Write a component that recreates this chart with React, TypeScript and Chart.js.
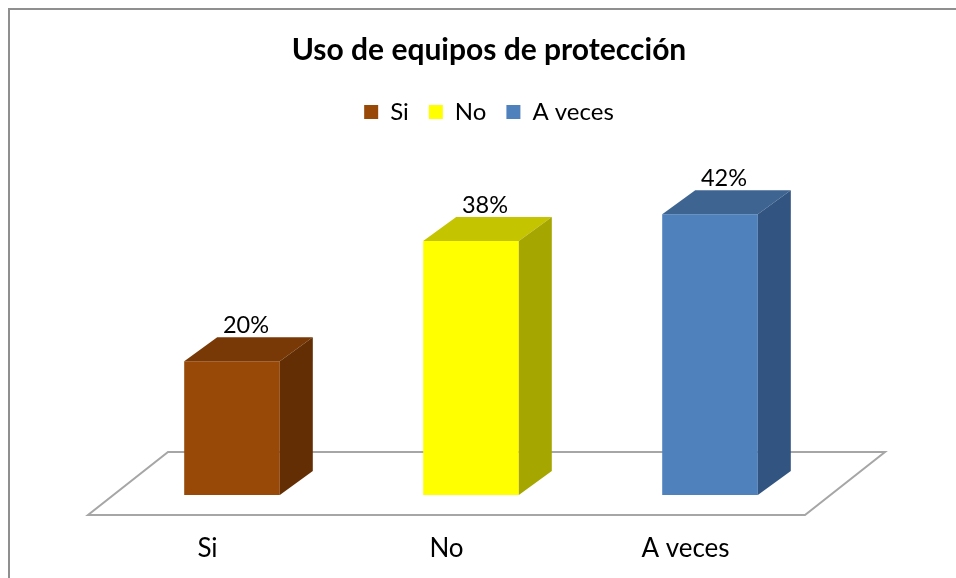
import React, { useEffect, useRef } from "react";
import { Chart, registerables } from "chart.js";

Chart.register(...registerables);

const titleText = "Uso de equipos de protección";
const categories = ["Si", "No", "A veces"];
const values = [20, 38, 42];
const frontColors = ["#984807", "#FFFF00", "#4F81BD"];
const topColors = ["#793906", "#C4C400", "#3E6592"];
const sideColors = ["#632E04", "#A6A600", "#325480"];

const FONT = "Lato, 'Open Sans', sans-serif";
const DEPTH_X = 33;
const DEPTH_Y = -24;
const FLOOR_FRONT_DX = -24.5;
const FLOOR_FRONT_DY = 20;
const FLOOR_BACK_DX = 55.5;
const FLOOR_BACK_DY = -43;

function poly(ctx: CanvasRenderingContext2D, pts: number[][], fill: string) {
  ctx.beginPath();
  ctx.moveTo(pts[0][0], pts[0][1]);
  for (let i = 1; i < pts.length; i++) ctx.lineTo(pts[i][0], pts[i][1]);
  ctx.closePath();
  ctx.fillStyle = fill;
  ctx.fill();
}

const bars3d = {
  id: "bars3d",
  beforeDatasetsDraw(chart: any) {
    const { ctx, chartArea, scales } = chart;
    const base = scales.y.getPixelForValue(0);
    const l = chartArea.left;
    const r = chartArea.right;
    ctx.save();
    ctx.beginPath();
    ctx.moveTo(l + FLOOR_FRONT_DX, base + FLOOR_FRONT_DY);
    ctx.lineTo(r + FLOOR_FRONT_DX, base + FLOOR_FRONT_DY);
    ctx.lineTo(r + FLOOR_BACK_DX, base + FLOOR_BACK_DY);
    ctx.lineTo(l + FLOOR_BACK_DX, base + FLOOR_BACK_DY);
    ctx.closePath();
    ctx.fillStyle = "#ffffff";
    ctx.fill();
    ctx.strokeStyle = "#a6a6a6";
    ctx.lineWidth = 2;
    ctx.stroke();
    ctx.restore();
  },
  afterDatasetsDraw(chart: any) {
    const { ctx } = chart;
    ctx.save();
    chart.data.datasets.forEach((ds: any, di: number) => {
      const meta = chart.getDatasetMeta(di);
      meta.data.forEach((el: any, i: number) => {
        const v = ds.data[i];
        if (v == null) return;
        const { x, y, base, width } = el.getProps(["x", "y", "base", "width"], true);
        const x0 = x - width / 2;
        const x1 = x + width / 2;
        poly(ctx, [[x0, y], [x1, y], [x1 + DEPTH_X, y + DEPTH_Y], [x0 + DEPTH_X, y + DEPTH_Y]], topColors[di]);
        poly(ctx, [[x1, y], [x1 + DEPTH_X, y + DEPTH_Y], [x1 + DEPTH_X, base + DEPTH_Y], [x1, base]], sideColors[di]);
        ctx.fillStyle = "#000000";
        ctx.font = `23.5px ${FONT}`;
        ctx.textAlign = "center";
        ctx.textBaseline = "middle";
        ctx.fillText(`${v}%`, x + 14, y + DEPTH_Y - 12);
      });
    });
    ctx.restore();
  },
};

export default function App() {
  const ref = useRef<HTMLCanvasElement | null>(null);
  useEffect(() => {
    if (!ref.current) return;
    const datasets = categories.map((c, i) => ({
      label: c,
      data: values.map((v, j) => (j === i ? v : null)),
      backgroundColor: frontColors[i],
      borderWidth: 0,
      grouped: false,
      barPercentage: 0.4,
      categoryPercentage: 1,
    }));
    const chart = new Chart(ref.current, {
      type: "bar",
      data: { labels: categories, datasets },
      options: {
        animation: false,
        responsive: false,
        layout: { padding: { left: 102.5, right: 90.5, top: 0, bottom: 0 } },
        plugins: {
          title: {
            display: true,
            text: titleText,
            color: "#000000",
            font: { family: FONT, size: 30, weight: "bold" },
            padding: { top: 22, bottom: 12 },
          },
          legend: {
            display: true,
            labels: {
              color: "#000000",
              boxWidth: 14,
              boxHeight: 14,
              padding: 20,
              font: { family: FONT, size: 24 },
            },
          },
          tooltip: { enabled: false },
        },
        scales: {
          x: {
            grid: { display: false, drawTicks: false },
            border: { display: false },
            ticks: {
              color: "#000000",
              font: { family: FONT, size: 26 },
              padding: 38,
              labelOffset: FLOOR_FRONT_DX,
              maxRotation: 0,
              minRotation: 0,
              autoSkip: false,
            },
            afterFit: (s: any) => {
              s.height = 83;
            },
          },
          y: {
            position: "right",
            min: 0,
            max: 54,
            grid: { display: false, drawTicks: false },
            border: { display: false },
            ticks: { display: false },
            afterFit: (s: any) => {
              s.width = 36;
            },
          },
        },
      },
      plugins: [bars3d],
    } as any);
    return () => chart.destroy();
  }, []);
  return (
    <div
      style={{
        position: "fixed",
        left: 8,
        top: 8,
        width: 980,
        height: 600,
        borderTop: "2px solid #8f8f8f",
        borderLeft: "2px solid #8f8f8f",
        background: "#ffffff",
      }}
    >
      <canvas ref={ref} width={946} height={568} style={{ display: "block" }} />
    </div>
  );
}
